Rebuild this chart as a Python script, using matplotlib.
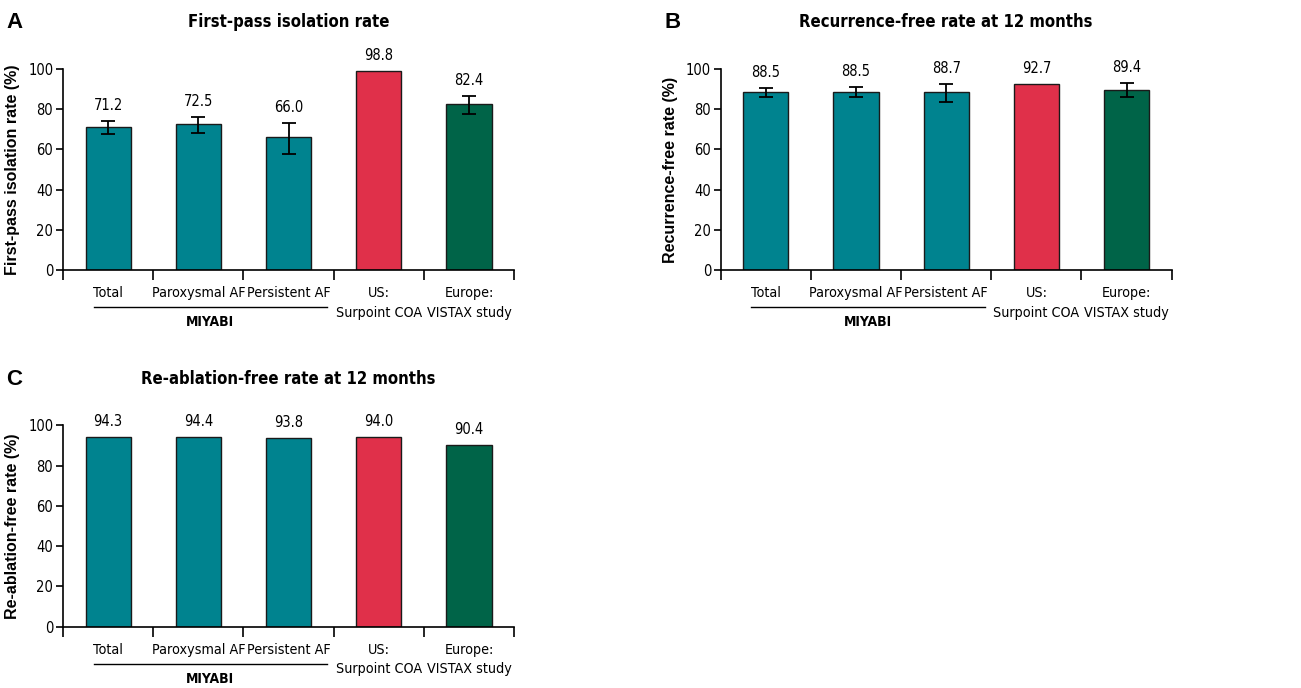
import matplotlib
matplotlib.use("Agg")
import matplotlib.pyplot as plt

plt.rcParams["font.family"] = ["DejaVu Sans"]
plt.rcParams["font.stretch"] = "condensed"

# Categories and data
categories = ["Total", "Paroxysmal AF", "Persistent AF", "US:\nSurpoint COA", "Europe:\nVISTAX study"]
bar_colors = ["#00838F", "#00838F", "#00838F", "#E0304A", "#006448"]

first_pass = [71.2, 72.5, 66.0, 98.8, 82.4]
first_pass_lo = [67.8, 68.3, 57.6, None, 77.5]
first_pass_hi = [74.1, 76.0, 73.3, None, 86.6]

recurrence_free = [88.5, 88.5, 88.7, 92.7, 89.4]
recurrence_lo = [86.2, 85.9, 83.6, None, 86.1]
recurrence_hi = [90.4, 91.0, 92.7, None, 93.2]

reablation_free = [94.3, 94.4, 93.8, 94.0, 90.4]

fig = plt.figure(figsize=(13.01, 6.88), dpi=100)


def draw_panel(rect, letter, title, ylabel, values, lo=None, hi=None):
    ax = fig.add_axes(rect)
    x = list(range(len(values)))
    ax.bar(x, values, width=0.5, color=bar_colors, edgecolor="#1a1a1a", linewidth=1.0, zorder=2)
    tops = list(values)
    if lo is not None:
        for i, v in enumerate(values):
            if lo[i] is None:
                continue
            ax.errorbar(i, v, yerr=[[v - lo[i]], [hi[i] - v]], fmt="none", ecolor="black",
                        elinewidth=1.3, capsize=5, capthick=1.3, zorder=3, clip_on=False)
            tops[i] = hi[i]
    for i, v in enumerate(values):
        ax.text(i, tops[i] + 4, f"{v:.1f}", ha="center", va="bottom", fontsize=10.5, clip_on=False)

    ax.set_xlim(-0.5, len(values) - 0.5)
    ax.set_ylim(0, 100)
    ax.set_yticks([0, 20, 40, 60, 80, 100])
    ax.tick_params(axis="y", labelsize=10.5, length=5, width=1.2, pad=2)
    ax.set_xticks([i - 0.5 for i in range(len(values) + 1)])
    ax.set_xticklabels([])
    ax.tick_params(axis="x", length=7, width=1.2)
    for i, c in enumerate(categories):
        ax.text(i, -8, c, ha="center", va="top", fontsize=10.3, linespacing=1.5,
                clip_on=False)
    ax.plot([-0.16, 2.43], [-18.5, -18.5], color="black", linewidth=1.0, clip_on=False)
    ax.text(1.13, -22.5, "MIYABI", ha="center", va="top", fontsize=10, fontweight="bold",
            clip_on=False)

    ax.spines["top"].set_visible(False)
    ax.spines["right"].set_visible(False)
    ax.spines["left"].set_linewidth(1.2)
    ax.spines["bottom"].set_linewidth(1.2)
    ax.set_ylabel(ylabel, fontsize=11.5, fontweight="bold", family="Liberation Sans",
                  fontstretch="normal", labelpad=6)
    ax.set_title(title, fontsize=12, fontweight="bold", pad=30)
    ax.text(-0.125, 1.23, letter, transform=ax.transAxes, fontsize=16, fontweight="bold",
            ha="left", va="center", family="Liberation Sans", fontstretch="normal")
    return ax


draw_panel([0.0484, 0.6076, 0.3468, 0.2921], "A", "First-pass isolation rate",
           "First-pass isolation rate (%)", first_pass, first_pass_lo, first_pass_hi)
draw_panel([0.554, 0.6076, 0.3466, 0.2921], "B", "Recurrence-free rate at 12 months",
           "Recurrence-free rate (%)", recurrence_free, recurrence_lo, recurrence_hi)
draw_panel([0.0484, 0.0891, 0.3468, 0.2927], "C", "Re-ablation-free rate at 12 months",
           "Re-ablation-free rate (%)", reablation_free)

fig.savefig("out.png", dpi=100)
